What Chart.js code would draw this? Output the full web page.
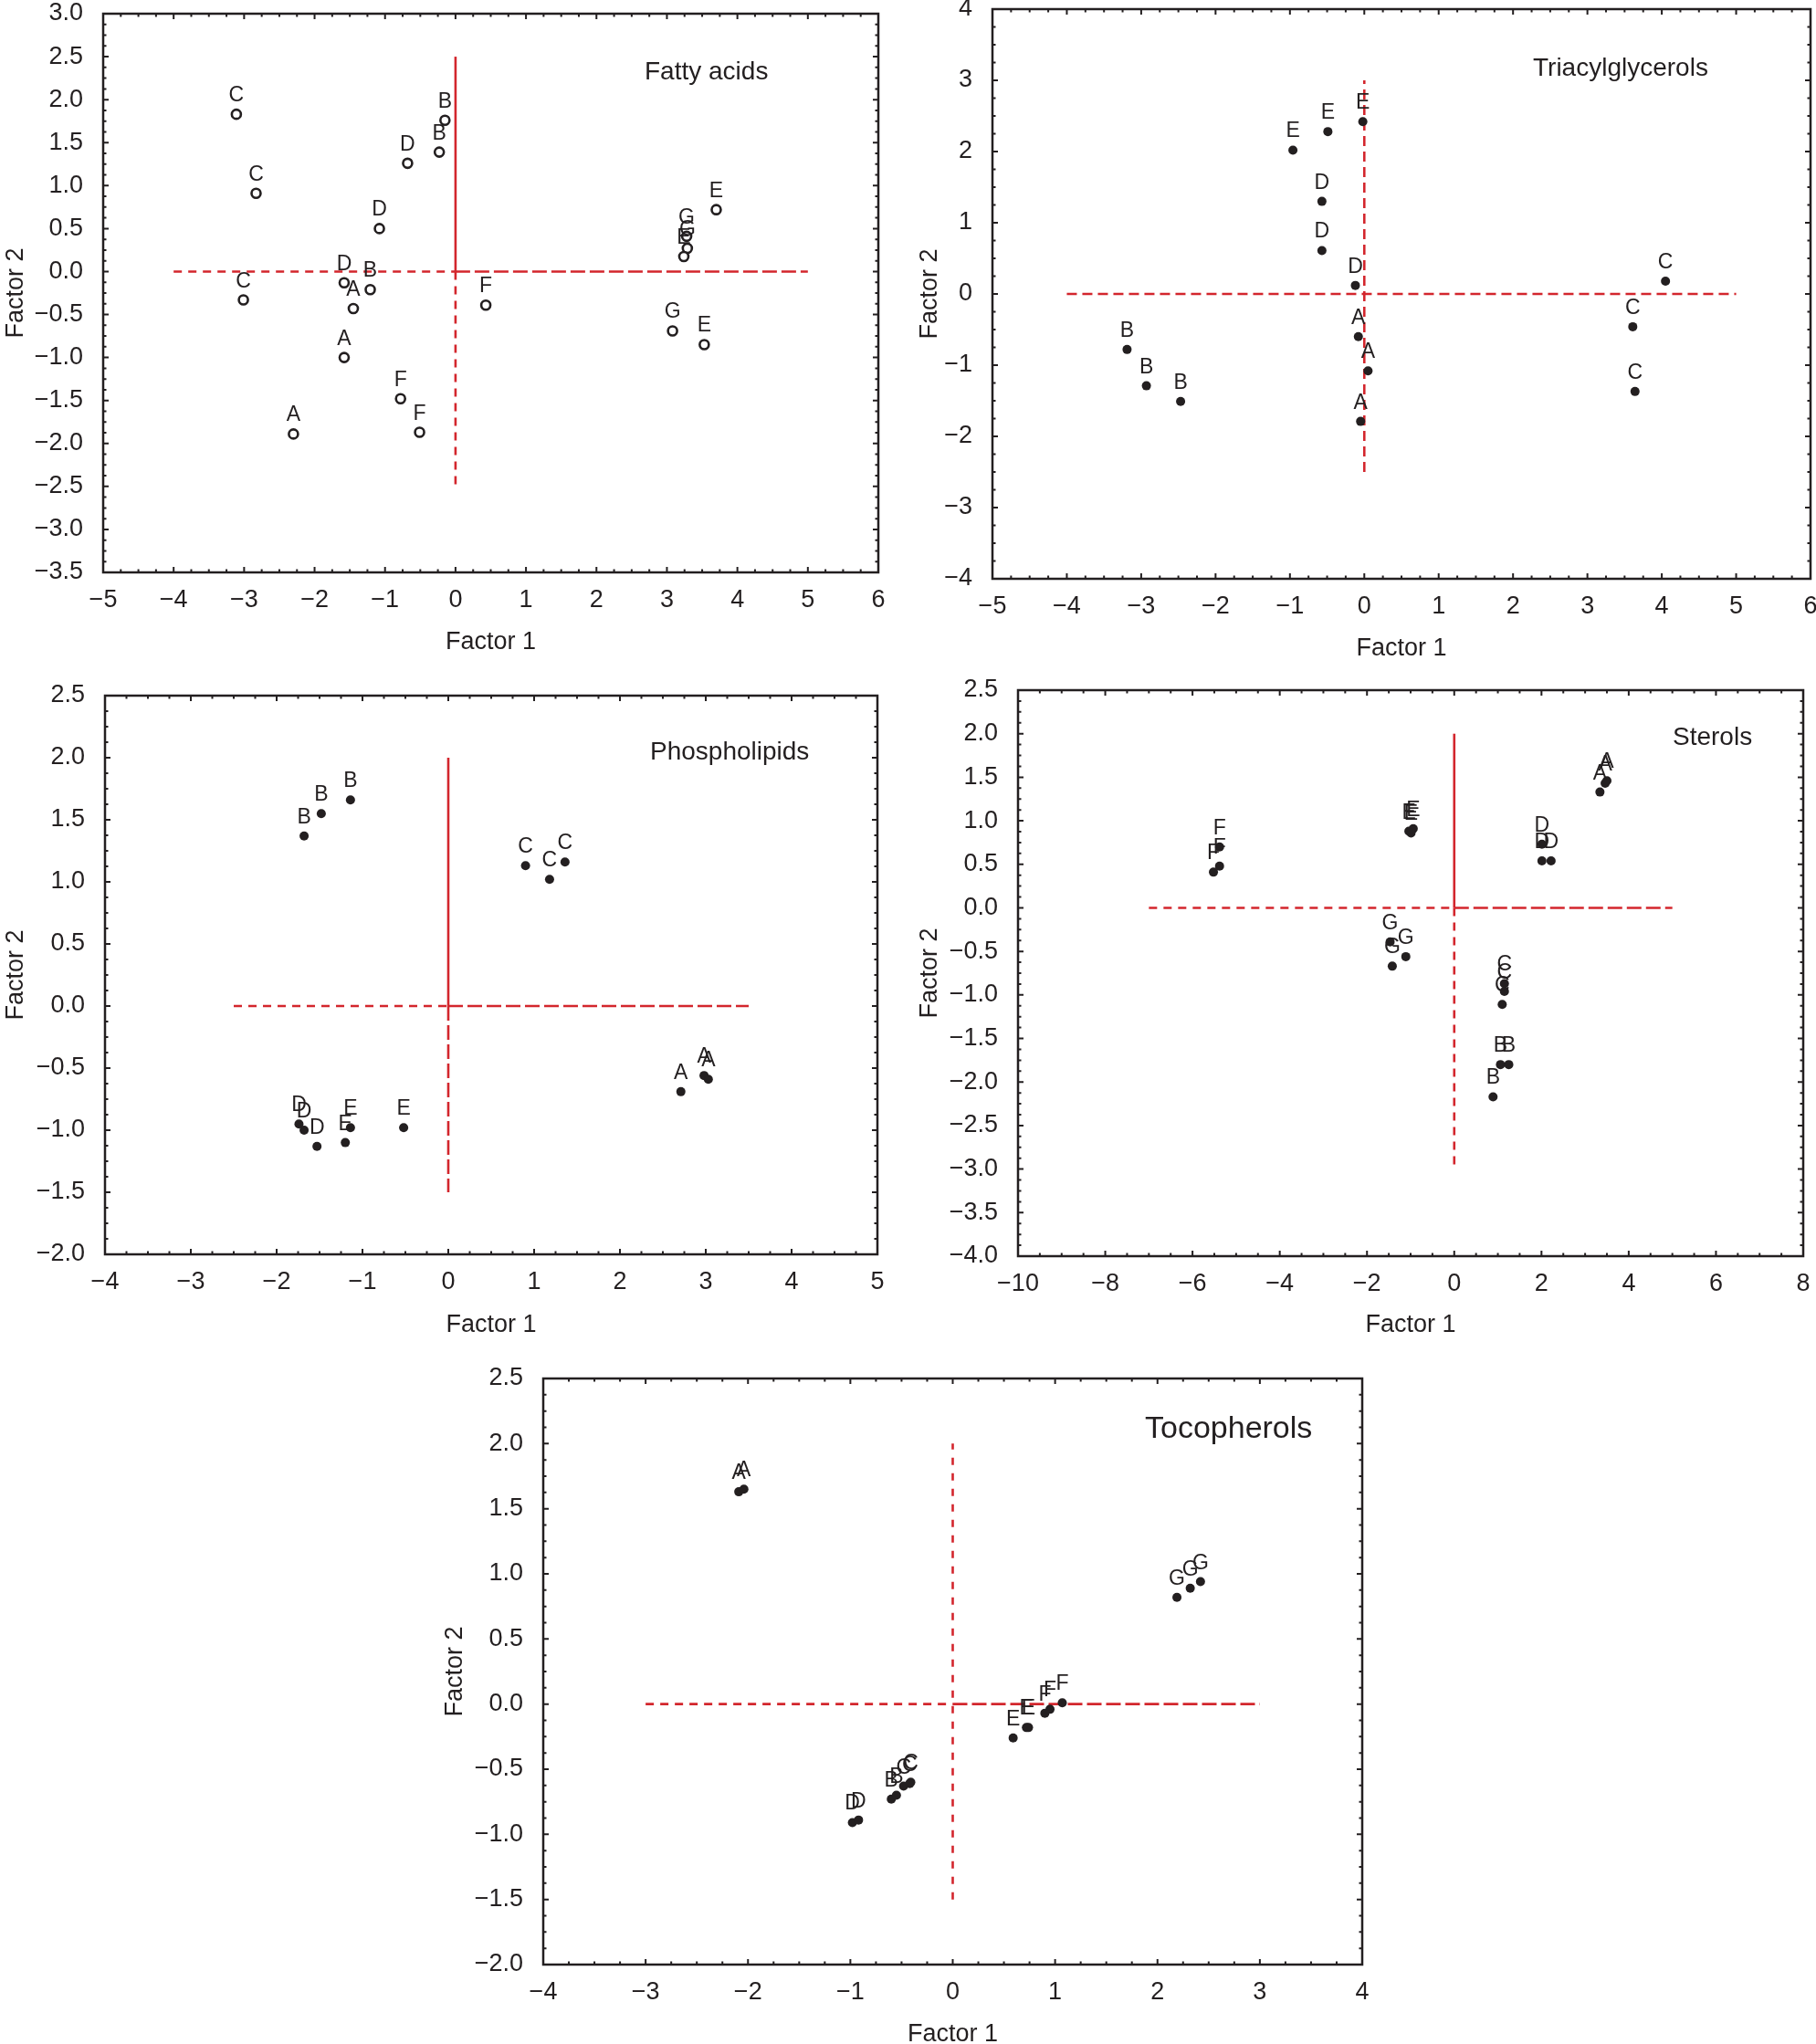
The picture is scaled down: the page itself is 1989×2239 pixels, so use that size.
<!DOCTYPE html>
<html><head><meta charset="utf-8">
<script src="https://cdn.jsdelivr.net/npm/chart.js@4.4.1/dist/chart.umd.min.js"></script>
<style>
html,body{margin:0;padding:0;background:#fff;}
#wrap{position:relative;width:1989px;height:2239px;overflow:hidden;background:#fff;}
canvas{position:absolute;left:0;top:0;}
</style></head><body><div id="wrap">
<canvas id="c1" width="1989" height="2239"></canvas>
<canvas id="c2" width="1989" height="2239"></canvas>
<canvas id="c3" width="1989" height="2239"></canvas>
<canvas id="c4" width="1989" height="2239"></canvas>
<canvas id="c5" width="1989" height="2239"></canvas>
</div>
<script>
// ---------- DATA ----------
// Fatty acids
const faLabels = ['C','C','C','D','D','D','B','B','B','A','A','A','F','F','F','G','G','E','E','G','E'];
const faX = [-3.11,-2.83,-3.01,-0.68,-1.08,-1.58,-0.15,-0.23,-1.21,-1.45,-1.58,-2.30,-0.78,-0.51,0.43,3.28,3.29,3.24,3.70,3.08,3.53];
const faY = [1.83,0.91,-0.33,1.26,0.50,-0.13,1.76,1.39,-0.21,-0.43,-1.00,-1.89,-1.48,-1.87,-0.39,0.41,0.27,0.175,0.72,-0.69,-0.85];
const faXTicks = [-5,-4,-3,-2,-1,0,1,2,3,4,5,6];
const faYTicks = [-3.5,-3.0,-2.5,-2.0,-1.5,-1.0,-0.5,0.0,0.5,1.0,1.5,2.0,2.5,3.0];

// Triacylglycerols
const tagLabels = ['E','E','E','D','D','D','A','A','A','B','B','B','C','C','C'];
const tagX = [-0.96,-0.49,-0.02,-0.57,-0.57,-0.12,-0.08,0.05,-0.05,-3.19,-2.93,-2.47,4.05,3.61,3.64];
const tagY = [2.02,2.28,2.42,1.30,0.61,0.12,-0.60,-1.08,-1.79,-0.78,-1.29,-1.51,0.18,-0.46,-1.37];
const tagXTicks = [-5,-4,-3,-2,-1,0,1,2,3,4,5,6];
const tagYTicks = [-4,-3,-2,-1,0,1,2,3,4];

// Phospholipids
const plLabels = ['B','B','B','C','C','C','A','A','A','D','D','D','E','E','E'];
const plX = [-1.68,-1.48,-1.14,0.90,1.18,1.36,2.71,2.98,3.03,-1.74,-1.68,-1.53,-1.20,-1.14,-0.52];
const plY = [1.37,1.55,1.66,1.13,1.02,1.16,-0.69,-0.56,-0.59,-0.95,-1.00,-1.13,-1.10,-0.98,-0.98];
const plXTicks = [-4,-3,-2,-1,0,1,2,3,4,5];
const plYTicks = [-2.0,-1.5,-1.0,-0.5,0.0,0.5,1.0,1.5,2.0,2.5];

// Sterols
const stLabels = ['F','F','F','E','E','E','D','D','D','A','A','A','G','G','G','C','C','C','B','B','B'];
const stX = [-5.52,-5.38,-5.38,-1.04,-0.94,-0.99,2.01,2.01,2.22,3.34,3.46,3.50,-1.47,-1.11,-1.42,1.15,1.15,1.10,1.06,1.25,0.89];
const stY = [0.41,0.48,0.70,0.88,0.91,0.86,0.73,0.54,0.54,1.33,1.43,1.46,-0.39,-0.56,-0.67,-0.87,-0.96,-1.11,-1.80,-1.80,-2.17];
const stXTicks = [-10,-8,-6,-4,-2,0,2,4,6,8];
const stYTicks = [-4.0,-3.5,-3.0,-2.5,-2.0,-1.5,-1.0,-0.5,0.0,0.5,1.0,1.5,2.0,2.5];

// Tocopherols
const toLabels = ['A','A','G','G','G','F','F','F','E','E','E','B','B','C','C','C','D','D'];
const toX = [-2.09,-2.04,2.19,2.32,2.42,0.90,0.95,1.07,0.59,0.72,0.74,-0.60,-0.55,-0.48,-0.42,-0.41,-0.98,-0.92];
const toY = [1.63,1.65,0.82,0.89,0.94,-0.07,-0.04,0.01,-0.26,-0.18,-0.18,-0.73,-0.70,-0.63,-0.61,-0.60,-0.91,-0.89];
const toXTicks = [-4,-3,-2,-1,0,1,2,3,4];
const toYTicks = [-2.0,-1.5,-1.0,-0.5,0.0,0.5,1.0,1.5,2.0,2.5];

// reference lines: [x1,y1,x2,y2, kind]  kind: 's' solid, 'd' short dash, 'D' long dash
const faRef  = [[0,0,0,2.5,'s'],[0,0,0,-2.5,'d'],[-4,0,0,0,'d'],[0,0,5,0,'D']];
const tagRef = [[0,-2.5,0,3,'m'],[-4,0,5,0,'m']];
const plRef  = [[0,0,0,2.0,'s'],[0,0,0,-1.5,'D'],[-2.5,0,0,0,'d'],[0,0,3.5,0,'D']];
const stRef  = [[0,0,0,2.0,'s'],[0,0,0,-3.0,'d'],[-7,0,0,0,'d'],[0,0,5,0,'D']];
const toRef  = [[0,-1.5,0,2.0,'v'],[-3,0,0,0,'d'],[0,0,3,0,'D']];

// ---------- STYLE / LAYOUT ----------
const FONT = "'Liberation Sans', Arial, Helvetica, sans-serif";
const INK = '#231f20';
const RED = '#d3262d';
const W = 1989, H = 2239, YW = 100, XH = 60;
const DASH = { s: [], d: [9, 7], D: [16, 5], m: [11, 6], v: [8, 9] };

const panels = [
  { id:'c1', L:113, T:15, R:962, B:627, title:'Fatty acids', tX:706, tY:87, tS:28, xtY:711, ytX:25,
    labels:faLabels, xs:faX, ys:faY, xt:faXTicks, yt:faYTicks, yDec:1, ref:faRef, open:true },
  { id:'c2', L:1087, T:10, R:1983, B:634, title:'Triacylglycerols', tX:1679, tY:83, tS:28, xtY:718, ytX:1026,
    labels:tagLabels, xs:tagX, ys:tagY, xt:tagXTicks, yt:tagYTicks, yDec:0, ref:tagRef, open:false },
  { id:'c3', L:115, T:762, R:961, B:1374, title:'Phospholipids', tX:712, tY:832, tS:28, xtY:1459, ytX:25,
    labels:plLabels, xs:plX, ys:plY, xt:plXTicks, yt:plYTicks, yDec:1, ref:plRef, open:false },
  { id:'c4', L:1115, T:756, R:1975, B:1376, title:'Sterols', tX:1832, tY:816, tS:28, xtY:1459, ytX:1026,
    labels:stLabels, xs:stX, ys:stY, xt:stXTicks, yt:stYTicks, yDec:1, ref:stRef, open:false },
  { id:'c5', L:595, T:1510, R:1492, B:2152, title:'Tocopherols', tX:1254, tY:1575, tS:34, xtY:2236, ytX:506,
    labels:toLabels, xs:toX, ys:toY, xt:toXTicks, yt:toYTicks, yDec:1, ref:toRef, open:false }
];

function fmt(v, dec) { return v.toFixed(dec).replace('-', '\u2212'); }

function makeChart(p) {
  const pts = p.xs.map((x, i) => ({ x: x, y: p.ys[i] }));
  const datasets = [{
    data: pts, order: 1,
    pointStyle: 'circle',
    pointRadius: 5,
    pointBorderWidth: p.open ? 2.6 : 0,
    pointBorderColor: INK,
    pointBackgroundColor: p.open ? '#fff' : INK,
    showLine: false
  }];
  p.ref.forEach(r => {
    datasets.push({
      data: [{ x: r[0], y: r[1] }, { x: r[2], y: r[3] }],
      showLine: true, pointRadius: 0, borderColor: RED, borderWidth: 2.6,
      borderDash: DASH[r[4]], borderCapStyle: 'butt', order: 2, clip: false
    });
  });

  const xmin = p.xt[0], xmax = p.xt[p.xt.length - 1];
  const ymin = p.yt[0], ymax = p.yt[p.yt.length - 1];

  const decor = {
    id: 'decor' + p.id,
    afterDatasetsDraw(chart) {
      const c = chart.ctx, a = chart.chartArea;
      const xs = chart.scales.x, ys = chart.scales.y;
      c.save();
      // point labels
      c.fillStyle = INK;
      c.font = '23px ' + FONT;
      c.textAlign = 'center';
      c.textBaseline = 'alphabetic';
      const meta = chart.getDatasetMeta(0);
      meta.data.forEach((el, i) => c.fillText(p.labels[i], el.x, el.y - 14));
      // frame
      c.strokeStyle = INK;
      c.lineWidth = 2.5;
      c.strokeRect(a.left, a.top, a.right - a.left, a.bottom - a.top);
      // inward ticks
      c.lineWidth = 2;
      const xStep = p.xt[1] - p.xt[0], yStep = p.yt[1] - p.yt[0];
      const nx = Math.round((xmax - xmin) / xStep) * 4;
      for (let k = 0; k <= nx; k++) {
        const v = xmin + k * xStep / 4;
        const px = xs.getPixelForValue(v);
        const len = (k % 4 === 0) ? 6 : 3.5;
        c.beginPath();
        c.moveTo(px, a.bottom); c.lineTo(px, a.bottom - len);
        c.moveTo(px, a.top); c.lineTo(px, a.top + len);
        c.stroke();
      }
      const ny = Math.round((ymax - ymin) / yStep) * 4;
      for (let k = 0; k <= ny; k++) {
        const v = ymin + k * yStep / 4;
        const py = ys.getPixelForValue(v);
        const len = (k % 4 === 0) ? 6 : 3.5;
        c.beginPath();
        c.moveTo(a.left, py); c.lineTo(a.left + len, py);
        c.moveTo(a.right, py); c.lineTo(a.right - len, py);
        c.stroke();
      }
      // panel title
      c.font = p.tS + 'px ' + FONT;
      c.textAlign = 'left';
      c.fillText(p.title, p.tX, p.tY);
      // axis titles
      c.font = '27px ' + FONT;
      c.textAlign = 'center';
      c.fillText('Factor 1', (a.left + a.right) / 2, p.xtY);
      c.translate(p.ytX, (a.top + a.bottom) / 2);
      c.rotate(-Math.PI / 2);
      c.fillText('Factor 2', 0, 0);
      c.restore();
    }
  };

  return new Chart(document.getElementById(p.id), {
    type: 'scatter',
    data: { datasets: datasets },
    options: {
      responsive: false,
      animation: false,
      events: [],
      layout: { padding: { left: p.L - YW, top: p.T, right: W - p.R, bottom: H - p.B - XH } },
      plugins: { legend: { display: false }, tooltip: { enabled: false } },
      scales: {
        x: {
          type: 'linear', position: 'bottom', min: xmin, max: xmax,
          grid: { display: false }, border: { display: false },
          afterBuildTicks: s => { s.ticks = p.xt.map(v => ({ value: v })); },
          afterFit: s => { s.height = XH; s.paddingLeft = 0; s.paddingRight = 0; s.paddingTop = 0; s.paddingBottom = 0; },
          ticks: { font: { family: FONT, size: 27 }, color: INK, padding: 6, maxRotation: 0, autoSkip: false,
                   callback: v => fmt(v, 0) }
        },
        y: {
          type: 'linear', position: 'left', min: ymin, max: ymax,
          grid: { display: false }, border: { display: false },
          afterBuildTicks: s => { s.ticks = p.yt.map(v => ({ value: v })); },
          afterFit: s => { s.width = YW; s.paddingLeft = 0; s.paddingRight = 0; s.paddingTop = 0; s.paddingBottom = 0; },
          ticks: { font: { family: FONT, size: 27 }, color: INK, padding: 14, autoSkip: false,
                   callback: v => fmt(v, p.yDec) }
        }
      }
    },
    plugins: [decor]
  });
}

panels.forEach(makeChart);
</script>
</body></html>
